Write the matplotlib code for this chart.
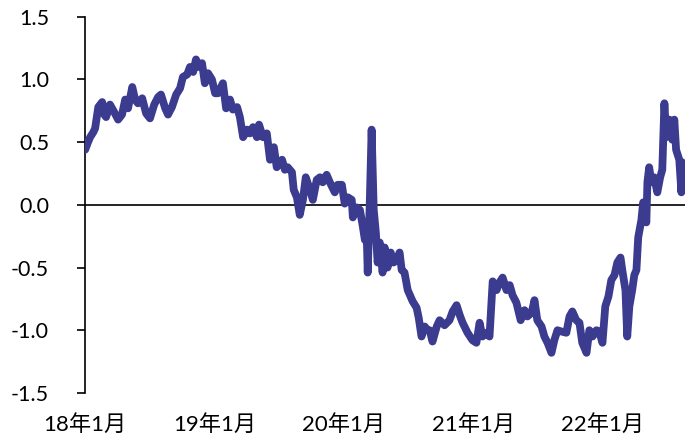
import matplotlib
matplotlib.use("Agg")
import matplotlib.pyplot as plt
import pandas as pd

dates = [
    "2018-01-01", "2018-01-09", "2018-01-15", "2018-01-24", "2018-01-29", "2018-02-07", "2018-02-18", "2018-02-24",
    "2018-03-01", "2018-03-12", "2018-03-24", "2018-04-04", "2018-04-15", "2018-04-24", "2018-05-02", "2018-05-14",
    "2018-05-22", "2018-05-30", "2018-06-11", "2018-06-22", "2018-07-03", "2018-07-15", "2018-07-26", "2018-08-03",
    "2018-08-15", "2018-08-23", "2018-09-03", "2018-09-15", "2018-09-26", "2018-10-04", "2018-10-16", "2018-10-24",
    "2018-11-02", "2018-11-10", "2018-11-18", "2018-11-27", "2018-12-05", "2018-12-14", "2018-12-25", "2019-01-03",
    "2019-01-11", "2019-01-25", "2019-02-03", "2019-02-14", "2019-02-22", "2019-03-06", "2019-03-14", "2019-03-23",
    "2019-04-03", "2019-04-11", "2019-04-20", "2019-05-01", "2019-05-07", "2019-05-18", "2019-05-29", "2019-06-07",
    "2019-06-18", "2019-06-26", "2019-07-11", "2019-07-19", "2019-07-27", "2019-08-08", "2019-08-13", "2019-08-22",
    "2019-08-30", "2019-09-08", "2019-09-16", "2019-09-28", "2019-10-06", "2019-10-17", "2019-10-26", "2019-11-03",
    "2019-11-14", "2019-11-23", "2019-12-07", "2019-12-15", "2019-12-27", "2020-01-04", "2020-01-13", "2020-01-24",
    "2020-01-27", "2020-02-07", "2020-02-16", "2020-02-24", "2020-03-01", "2020-03-06", "2020-03-09", "2020-03-15",
    "2020-03-20", "2020-03-26", "2020-04-01", "2020-04-06", "2020-04-12", "2020-04-20", "2020-04-26", "2020-05-04",
    "2020-05-13", "2020-05-21", "2020-05-30", "2020-06-07", "2020-06-13", "2020-06-21", "2020-06-30", "2020-07-14",
    "2020-07-25", "2020-07-31", "2020-08-08", "2020-08-17", "2020-08-25", "2020-08-31", "2020-09-08", "2020-09-20",
    "2020-09-28", "2020-10-12", "2020-10-26", "2020-11-04", "2020-11-15", "2020-11-24", "2020-12-02", "2020-12-16",
    "2020-12-30", "2021-01-10", "2021-01-19", "2021-01-27", "2021-02-08", "2021-02-16", "2021-02-25", "2021-03-08",
    "2021-03-16", "2021-03-25", "2021-04-05", "2021-04-14", "2021-04-22", "2021-05-03", "2021-05-15", "2021-05-26",
    "2021-06-03", "2021-06-15", "2021-06-23", "2021-07-01", "2021-07-13", "2021-07-21", "2021-07-30", "2021-08-10",
    "2021-08-18", "2021-08-27", "2021-09-07", "2021-09-21", "2021-09-30", "2021-10-08", "2021-10-19", "2021-10-28",
    "2021-11-05", "2021-11-17", "2021-11-25", "2021-12-04", "2021-12-15", "2021-12-23", "2022-01-01", "2022-01-09",
    "2022-01-18", "2022-01-26", "2022-02-04", "2022-02-12", "2022-02-21", "2022-02-26", "2022-03-07", "2022-03-12",
    "2022-03-18", "2022-03-26", "2022-04-01", "2022-04-07", "2022-04-12", "2022-04-21", "2022-04-26", "2022-05-05",
    "2022-05-08", "2022-05-13", "2022-05-19", "2022-05-27", "2022-06-05", "2022-06-13", "2022-06-19", "2022-06-25",
    "2022-06-30", "2022-07-09", "2022-07-17", "2022-07-23", "2022-07-28", "2022-08-06", "2022-08-12", "2022-08-14",
    "2022-08-20",
]

values = [
    0.44, 0.50, 0.54, 0.58, 0.61, 0.78, 0.82, 0.72,
    0.70, 0.80, 0.74, 0.68, 0.72, 0.84, 0.77, 0.94,
    0.84, 0.81, 0.85, 0.73, 0.69, 0.80, 0.86, 0.88,
    0.77, 0.72, 0.78, 0.88, 0.93, 1.02, 1.04, 1.10,
    1.06, 1.16, 1.10, 1.13, 0.97, 1.05, 1.00, 0.89,
    0.89, 0.97, 0.77, 0.84, 0.76, 0.78, 0.70, 0.54,
    0.60, 0.57, 0.62, 0.54, 0.64, 0.54, 0.57, 0.36,
    0.46, 0.30, 0.36, 0.28, 0.30, 0.26, 0.12, 0.06,
    -0.08, 0.04, 0.22, 0.12, 0.04, 0.20, 0.22, 0.18,
    0.24, 0.18, 0.10, 0.16, 0.16, 0.01, 0.06, 0.04,
    -0.10, -0.02, -0.04, -0.17, -0.28, -0.22, -0.54, 0.04,
    0.60, -0.04, -0.22, -0.46, -0.30, -0.54, -0.34, -0.50,
    -0.38, -0.46, -0.44, -0.38, -0.52, -0.54, -0.68, -0.77,
    -0.82, -0.90, -1.05, -0.97, -1.00, -1.00, -1.09, -0.97,
    -0.92, -0.96, -0.92, -0.85, -0.80, -0.88, -0.94, -1.02,
    -1.08, -1.10, -0.94, -1.05, -1.02, -1.05, -0.61, -0.68,
    -0.62, -0.58, -0.68, -0.64, -0.72, -0.78, -0.92, -0.84,
    -0.89, -0.86, -0.76, -0.92, -0.97, -1.05, -1.10, -1.18,
    -1.08, -1.00, -1.01, -1.02, -0.89, -0.85, -0.92, -0.94,
    -1.10, -1.18, -1.00, -1.05, -1.00, -1.01, -1.10, -0.81,
    -0.73, -0.60, -0.56, -0.46, -0.42, -0.52, -0.68, -1.05,
    -0.81, -0.68, -0.56, -0.52, -0.26, -0.12, 0.02, -0.14,
    0.18, 0.30, 0.18, 0.22, 0.10, 0.22, 0.28, 0.81,
    0.54, 0.68, 0.52, 0.68, 0.44, 0.36, 0.10, 0.34,
    0.26,
]

y_ticks = [-1.5, -1.0, -0.5, 0.0, 0.5, 1.0, 1.5]
x_tick_dates = ["2018-01-01", "2019-01-01", "2020-01-01", "2021-01-01", "2022-01-01"]
x_tick_labels = ["18年1月", "19年1月", "20年1月", "21年1月", "22年1月"]

plt.rcParams["font.family"] = ["Lato", "Noto Sans CJK SC", "DejaVu Sans"]

fig = plt.figure(figsize=(6.87, 4.42), dpi=100)
ax = fig.add_axes([0.124, 0.111, 0.873, 0.851])

d = pd.to_datetime(dates)
ax.plot(d, values, color="#3B3B8F", lw=5.6, solid_joinstyle="round", solid_capstyle="round", zorder=3)
ax.axhline(0, color="black", lw=1.2, zorder=2)

ax.set_ylim(-1.5, 1.5)
ax.set_xlim(pd.Timestamp("2018-01-01"), pd.Timestamp("2022-08-22"))
ax.set_yticks(y_ticks)
ax.set_yticklabels([f"{v:.1f}" for v in y_ticks])
ax.set_xticks(pd.to_datetime(x_tick_dates))
ax.set_xticklabels(x_tick_labels)

for s in ["top", "right", "bottom"]:
    ax.spines[s].set_visible(False)
ax.spines["left"].set_linewidth(1.2)
ax.tick_params(axis="y", direction="out", length=6, width=1.2, labelsize=15.5, pad=20)
ax.tick_params(axis="x", length=0, labelsize=16, pad=15)

fig.savefig("out.png", dpi=100)
